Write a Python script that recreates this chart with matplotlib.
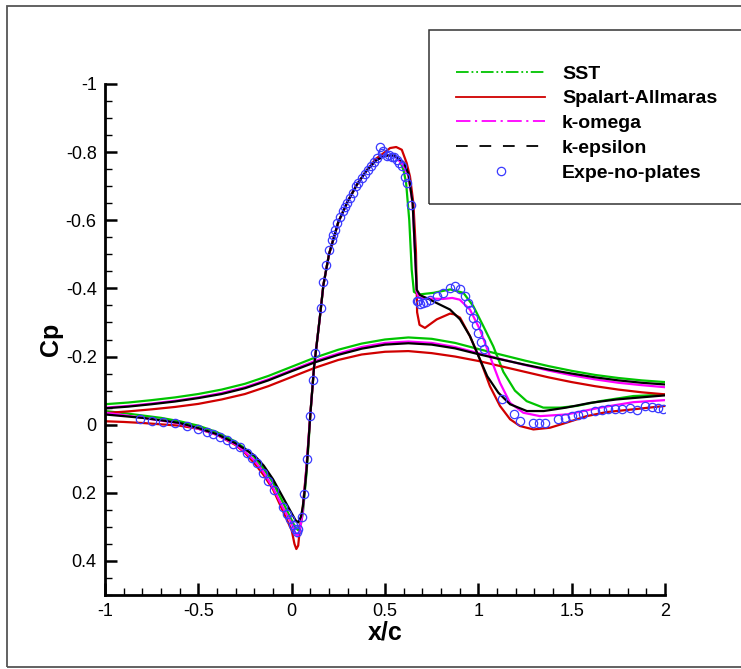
import matplotlib
matplotlib.use("Agg")
import matplotlib.pyplot as plt
from matplotlib.lines import Line2D
from matplotlib.patches import Rectangle
from matplotlib.ticker import MultipleLocator, FuncFormatter

plt.rcParams['font.family'] = ['Liberation Sans', 'DejaVu Sans']
plt.rcParams['axes.unicode_minus'] = False

# ---- data ----
# SST
sst_x = [-1, -0.9, -0.8, -0.7, -0.6, -0.5, -0.4, -0.3, -0.25, -0.2, -0.15, -0.1, -0.05, 0, 0.02, 0.035, 0.05,
         0.06, 0.07, 0.08, 0.09, 0.1, 0.12, 0.15, 0.17, 0.2, 0.25, 0.3, 0.35, 0.4, 0.45, 0.5, 0.55, 0.58, 0.6,
         0.613, 0.63, 0.643, 0.655, 0.68, 0.76, 0.85, 0.92, 0.973, 1.027, 1.08, 1.134, 1.196, 1.259, 1.348,
         1.438, 1.527, 1.652, 1.83, 2.0]
sst_cp = [-0.04, -0.034, -0.027, -0.02, -0.01, 0.003, 0.022, 0.05, 0.07, 0.095, 0.13, 0.17, 0.225, 0.28, 0.302,
          0.31, 0.29, 0.26, 0.2, 0.14, 0.06, -0.03, -0.17, -0.31, -0.41, -0.5, -0.595, -0.655, -0.705, -0.745,
          -0.775, -0.79, -0.79, -0.775, -0.745, -0.71, -0.6, -0.455, -0.39, -0.382, -0.387, -0.397, -0.387,
          -0.348, -0.289, -0.23, -0.155, -0.1, -0.069, -0.05, -0.05, -0.055, -0.069, -0.084, -0.088]
sst_top_x = [-1, -0.875, -0.75, -0.625, -0.5, -0.375, -0.25, -0.125, 0, 0.125, 0.25, 0.375, 0.5, 0.625, 0.75,
             0.875, 1.0, 1.125, 1.25, 1.375, 1.5, 1.625, 1.75, 1.875, 2.0]
sst_top_cp = [-0.06, -0.065, -0.072, -0.08, -0.09, -0.103, -0.12, -0.143, -0.17, -0.197, -0.22, -0.238, -0.25,
              -0.256, -0.252, -0.24, -0.222, -0.205, -0.188, -0.172, -0.158, -0.146, -0.137, -0.13, -0.125]

# Spalart-Allmaras
sa_x = [-1, -0.9, -0.8, -0.7, -0.6, -0.5, -0.4, -0.3, -0.25, -0.2, -0.15, -0.1, -0.05, 0, 0.015, 0.025, 0.035,
        0.045, 0.06, 0.08, 0.1, 0.12, 0.15, 0.17, 0.2, 0.25, 0.3, 0.35, 0.4, 0.45, 0.5, 0.527, 0.56, 0.59, 0.616,
        0.634, 0.652, 0.666, 0.672, 0.685, 0.714, 0.777, 0.848, 0.87, 0.902, 0.955, 1.009, 1.062, 1.116, 1.17,
        1.223, 1.295, 1.384, 1.473, 1.58, 1.687, 1.83, 2.0]
sa_cp = [-0.01, -0.008, -0.005, -0.001, 0.003, 0.012, 0.03, 0.06, 0.083, 0.113, 0.148, 0.19, 0.25, 0.31, 0.35,
         0.365, 0.355, 0.3, 0.24, 0.12, -0.03, -0.17, -0.31, -0.41, -0.5, -0.595, -0.655, -0.705, -0.745, -0.78,
         -0.8, -0.812, -0.815, -0.807, -0.768, -0.728, -0.65, -0.505, -0.33, -0.293, -0.284, -0.309, -0.326,
         -0.324, -0.314, -0.26, -0.191, -0.113, -0.055, -0.016, 0.004, 0.014, 0.009, -0.006, -0.025, -0.037,
         -0.045, -0.055]
sa_top_x = [-1, -0.875, -0.75, -0.625, -0.5, -0.375, -0.25, -0.125, 0, 0.125, 0.25, 0.375, 0.5, 0.625, 0.75,
            0.875, 1.0, 1.125, 1.25, 1.375, 1.5, 1.625, 1.75, 1.875, 2.0]
sa_top_cp = [-0.034, -0.039, -0.045, -0.052, -0.061, -0.074, -0.09, -0.113, -0.14, -0.167, -0.19, -0.206, -0.214,
             -0.216, -0.21, -0.2, -0.187, -0.171, -0.155, -0.139, -0.125, -0.113, -0.103, -0.095, -0.089]

# k-omega
kw_x = [-1, -0.9, -0.8, -0.7, -0.6, -0.5, -0.4, -0.3, -0.25, -0.2, -0.15, -0.1, -0.05, 0, 0.02, 0.03, 0.045,
        0.06, 0.08, 0.1, 0.12, 0.15, 0.17, 0.2, 0.25, 0.3, 0.35, 0.4, 0.45, 0.5, 0.55, 0.6, 0.625, 0.648, 0.661,
        0.67, 0.68, 0.75, 0.81, 0.86, 0.9, 0.955, 1.009, 1.062, 1.116, 1.17, 1.241, 1.33, 1.473, 1.652, 1.83, 2.0]
kw_cp = [-0.035, -0.028, -0.02, -0.012, -0.003, 0.012, 0.03, 0.058, 0.08, 0.105, 0.14, 0.185, 0.24, 0.29, 0.32,
         0.328, 0.31, 0.25, 0.12, -0.03, -0.17, -0.31, -0.41, -0.5, -0.595, -0.655, -0.705, -0.745, -0.775,
         -0.79, -0.79, -0.76, -0.73, -0.65, -0.5, -0.39, -0.372, -0.37, -0.369, -0.372, -0.367, -0.338, -0.279,
         -0.201, -0.123, -0.064, -0.035, -0.025, -0.03, -0.05, -0.066, -0.072]
kw_top_x = [-1, -0.875, -0.75, -0.625, -0.5, -0.375, -0.25, -0.125, 0, 0.125, 0.25, 0.375, 0.5, 0.625, 0.75,
            0.875, 1.0, 1.125, 1.25, 1.375, 1.5, 1.625, 1.75, 1.875, 2.0]
kw_top_cp = [-0.05, -0.055, -0.062, -0.07, -0.08, -0.093, -0.11, -0.133, -0.16, -0.187, -0.209, -0.228, -0.24,
             -0.244, -0.24, -0.228, -0.21, -0.192, -0.175, -0.159, -0.145, -0.133, -0.123, -0.116, -0.11]

# k-epsilon
ke_x = [-1, -0.9, -0.8, -0.7, -0.6, -0.5, -0.4, -0.3, -0.25, -0.2, -0.15, -0.1, -0.05, 0, 0.02, 0.035, 0.05,
        0.06, 0.07, 0.08, 0.09, 0.1, 0.12, 0.15, 0.17, 0.2, 0.25, 0.3, 0.35, 0.4, 0.45, 0.5, 0.55, 0.6, 0.625,
        0.648, 0.661, 0.67, 0.688, 0.73, 0.777, 0.848, 0.902, 0.955, 1.009, 1.048, 1.107, 1.17, 1.26, 1.35,
        1.47, 1.6, 1.74, 2.0]
ke_cp = [-0.03, -0.025, -0.02, -0.013, -0.005, 0.01, 0.028, 0.055, 0.072, 0.09, 0.12, 0.16, 0.21, 0.26, 0.28,
         0.287, 0.27, 0.24, 0.19, 0.13, 0.05, -0.03, -0.17, -0.31, -0.41, -0.5, -0.595, -0.655, -0.705, -0.745,
         -0.775, -0.79, -0.79, -0.77, -0.738, -0.65, -0.504, -0.396, -0.38, -0.37, -0.357, -0.338, -0.309, -0.26,
         -0.191, -0.142, -0.094, -0.06, -0.04, -0.04, -0.05, -0.064, -0.074, -0.086]
ke_top_x = [-1, -0.875, -0.75, -0.625, -0.5, -0.375, -0.25, -0.125, 0, 0.125, 0.25, 0.375, 0.5, 0.625, 0.75,
            0.875, 1.0, 1.125, 1.25, 1.375, 1.5, 1.625, 1.75, 1.875, 2.0]
ke_top_cp = [-0.048, -0.053, -0.06, -0.068, -0.078, -0.09, -0.107, -0.13, -0.157, -0.183, -0.205, -0.223, -0.235,
             -0.239, -0.235, -0.224, -0.207, -0.191, -0.176, -0.162, -0.15, -0.139, -0.13, -0.123, -0.118]

# experiment (no plates)
exp_x = [-0.812, -0.75, -0.688, -0.625, -0.562, -0.5, -0.455, -0.42, -0.384, -0.348, -0.313, -0.277, -0.241,
         -0.214, -0.187, -0.155, -0.125, -0.095, -0.048, -0.027, -0.009, 0.006, 0.018, 0.027, 0.035, 0.054,
         0.068, 0.084, 0.096, 0.113, 0.126, 0.157, 0.166, 0.184, 0.2, 0.214, 0.223, 0.232, 0.245, 0.259, 0.273,
         0.286, 0.298, 0.312, 0.327, 0.345, 0.357, 0.375, 0.393, 0.41, 0.423, 0.441, 0.455, 0.473, 0.482, 0.491,
         0.509, 0.523, 0.536, 0.548, 0.563, 0.577, 0.589, 0.607, 0.616, 0.638, 0.67, 0.679, 0.69, 0.705, 0.72,
         0.741, 0.777, 0.812, 0.848, 0.875, 0.902, 0.929, 0.946, 0.955, 0.973, 0.987, 1.0, 1.012, 1.03, 1.125,
         1.193, 1.223, 1.291, 1.327, 1.357, 1.428, 1.464, 1.5, 1.536, 1.562, 1.625, 1.66, 1.696, 1.732, 1.768,
         1.813, 1.848, 1.893, 1.929, 1.964, 1.991]
exp_cp = [-0.016, -0.011, -0.008, -0.004, 0.004, 0.014, 0.022, 0.028, 0.036, 0.046, 0.056, 0.067, 0.082, 0.097,
          0.113, 0.143, 0.165, 0.192, 0.243, 0.263, 0.277, 0.295, 0.305, 0.316, 0.307, 0.27, 0.204, 0.1, -0.025,
          -0.13, -0.209, -0.341, -0.418, -0.47, -0.514, -0.543, -0.558, -0.572, -0.592, -0.611, -0.626, -0.64,
          -0.652, -0.665, -0.68, -0.7, -0.709, -0.724, -0.736, -0.748, -0.758, -0.772, -0.782, -0.815, -0.797,
          -0.802, -0.789, -0.792, -0.787, -0.785, -0.777, -0.769, -0.758, -0.728, -0.709, -0.646, -0.362, -0.362,
          -0.355, -0.357, -0.36, -0.367, -0.377, -0.387, -0.401, -0.406, -0.397, -0.377, -0.357, -0.338, -0.313,
          -0.294, -0.27, -0.242, -0.221, -0.076, -0.03, -0.011, -0.004, -0.006, -0.006, -0.016, -0.02, -0.025,
          -0.027, -0.03, -0.04, -0.043, -0.045, -0.047, -0.047, -0.05, -0.043, -0.054, -0.053, -0.05, -0.047]

green = '#00c400'
red = '#d00000'
magenta = '#ff00ff'
blue = '#3a3aff'

fig = plt.figure(figsize=(7.41, 6.69), dpi=100)
ax = fig.add_axes([105 / 741, 1 - 595 / 669, 560 / 741, 511 / 669])

lw = 1.6
ax.plot(sst_x, sst_cp, color=green, lw=lw)
ax.plot(sst_top_x, sst_top_cp, color=green, lw=lw)
ax.plot(sa_x, sa_cp, color=red, lw=lw)
ax.plot(sa_top_x, sa_top_cp, color=red, lw=lw)
ax.plot(kw_x, kw_cp, color=magenta, lw=lw)
ax.plot(kw_top_x, kw_top_cp, color=magenta, lw=lw)
ax.plot(ke_x, ke_cp, color='black', lw=lw)
ax.plot(ke_top_x, ke_top_cp, color='black', lw=lw)
ax.plot(exp_x, exp_cp, 'o', mfc='none', mec=blue, ms=6, mew=0.9)

ax.set_xlim(-1, 2)
ax.set_ylim(0.5, -1)
for s in ['top', 'right']:
    ax.spines[s].set_visible(False)
for s in ['left', 'bottom']:
    ax.spines[s].set_linewidth(2)
ax.xaxis.set_major_locator(MultipleLocator(0.5))
ax.xaxis.set_minor_locator(MultipleLocator(0.1))
ax.yaxis.set_major_locator(MultipleLocator(0.2))
ax.yaxis.set_minor_locator(MultipleLocator(0.05))
fmt = FuncFormatter(lambda v, p: '%g' % round(v, 3))
ax.xaxis.set_major_formatter(fmt)
ax.yaxis.set_major_formatter(fmt)
ax.tick_params(which='major', direction='in', length=8.5, width=1.8, labelsize=13, pad=6)
ax.tick_params(which='minor', direction='in', length=5, width=1)
ax.set_xlabel('x/c', fontsize=18, fontweight='bold', labelpad=0)
ax.set_ylabel('Cp', fontsize=18, fontweight='bold', labelpad=2)

# outer frame and legend box (cut by the right edge, as in the original)
fig.patches.append(Rectangle((7 / 741, 1 - 667 / 669), 1.2, 661 / 669, transform=fig.transFigure,
                             fill=False, ec='#555555', lw=1.3, clip_on=False))
fig.patches.append(Rectangle((429 / 741, 1 - 204 / 669), 1.0, 174 / 669, transform=fig.transFigure,
                             fill=False, ec='#333333', lw=1.1, clip_on=False))

handles = [
    Line2D([], [], color=green, lw=1.3, dashes=[7, 1.6, 1, 1.6, 1, 1.6]),
    Line2D([], [], color=red, lw=1.3),
    Line2D([], [], color=magenta, lw=1.3, dashes=[8, 2.5, 1.2, 2.5]),
    Line2D([], [], color='black', lw=1.3, dashes=[6.5, 6.5]),
    Line2D([], [], ls='none', marker='o', mfc='none', mec=blue, ms=6, mew=0.9),
]
labels = ['SST', 'Spalart-Allmaras', 'k-omega', 'k-epsilon', 'Expe-no-plates']
fig.legend(handles, labels, loc='upper left', bbox_to_anchor=(456 / 741, 1 - 65 / 669),
           frameon=False, borderpad=0, borderaxespad=0, handlelength=4.6, handletextpad=0.85,
           labelspacing=0.37, numpoints=1, prop={'weight': 'bold', 'size': 14})

fig.savefig('out.png', dpi=100)
